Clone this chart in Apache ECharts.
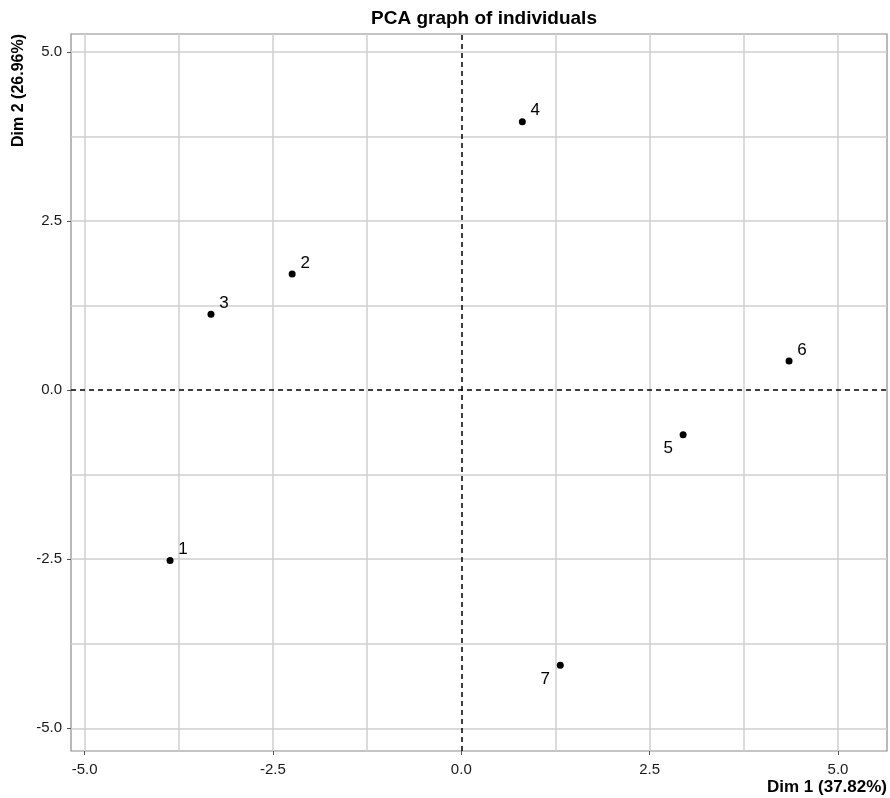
<!DOCTYPE html>
<html>
<head>
<meta charset="utf-8">
<script src="https://cdn.jsdelivr.net/npm/echarts@6/dist/echarts.min.js"></script>
<style>
html,body{margin:0;padding:0;background:#fff;}
#graphic{width:890px;height:798px;}
</style>
</head>
<body>
<div id="graphic"></div>
<script>
// individus
var names = ['1', '2', '3', '4', '5', '6', '7'];
var dim1 = [-3.865, -2.245, -3.322, 0.81, 2.944, 4.35, 1.314];
var dim2 = [-2.52, 1.717, 1.121, 3.966, -0.66, 0.43, -4.07];
// labels en bas à gauche pour 5 et 7
var labelSide = ['ur', 'ur', 'ur', 'ur', 'll', 'ur', 'll'];

var tickVals = [-5, -2.5, 0, 2.5, 5];
var gridVals = [-5, -3.75, -2.5, -1.25, 0, 1.25, 2.5, 3.75, 5];

function buildPoints(){
    var ret = [];
    for(var i=0; i<names.length; i++){
        var ur = labelSide[i] == 'ur';
        ret.push({
            value: [dim1[i], dim2[i]],
            name: names[i],
            label: {offset: ur ? [13, -11] : [-15, 14]}
        });
    }
    return ret;
}

function buildGrid(){
    var ret = [];
    for(var i=0; i<gridVals.length; i++){
        if(gridVals[i] == 0) continue;
        ret.push({xAxis: gridVals[i]});
        ret.push({yAxis: gridVals[i]});
    }
    return ret;
}

function fmt(v){ return v.toFixed(1); }

var option = {
    animation: false,
    title: {
        text: 'PCA graph of individuals',
        left: 479, top: 4, textAlign: 'center',
        textStyle: {fontFamily: 'Liberation Sans', fontSize: 19, fontWeight: 'bold', color: '#000'}
    },
    grid: {
        left: 71, top: 34, right: 2, bottom: 47,
        show: true, borderColor: '#8a8a8a', borderWidth: 1.2, backgroundColor: '#fff'
    },
    xAxis: {
        type: 'value', min: -5.18, max: 5.65,
        splitLine: {show: false},
        axisLine: {show: false, onZero: false},
        axisTick: {show: true, customValues: tickVals, length: 4, lineStyle: {color: '#555'}},
        axisLabel: {customValues: tickVals, formatter: fmt, color: '#1a1a1a', fontSize: 15,
            fontFamily: 'Liberation Sans', margin: 11},
        name: 'Dim 1 (37.82%)', nameLocation: 'end', nameGap: 0,
        nameTextStyle: {fontFamily: 'Liberation Sans', fontSize: 17, fontWeight: 'bold', color: '#000',
            align: 'right', verticalAlign: 'top', padding: [28, 0, 0, 0]}
    },
    yAxis: {
        type: 'value', min: -5.336, max: 5.264,
        splitLine: {show: false},
        axisLine: {show: false, onZero: false},
        axisTick: {show: true, customValues: tickVals, length: 4, lineStyle: {color: '#555'}},
        axisLabel: {customValues: tickVals, formatter: fmt, color: '#1a1a1a', fontSize: 15,
            fontFamily: 'Liberation Sans', margin: 9},
        name: 'Dim 2 (26.96%)', nameLocation: 'end', nameRotate: 90, nameGap: 0,
        nameTextStyle: {fontFamily: 'Liberation Sans', fontSize: 16, fontWeight: 'bold', color: '#000',
            align: 'right', verticalAlign: 'bottom', padding: [0, 0, 44, 0]}
    },
    series: [{
        type: 'scatter',
        symbol: 'circle', symbolSize: 7,
        itemStyle: {color: '#000', opacity: 1},
        z: 5,
        label: {
            show: true, formatter: '{b}', position: 'inside',
            color: '#000', fontSize: 17, fontFamily: 'Liberation Sans'
        },
        data: buildPoints(),
        markLine: {
            silent: true, symbol: 'none', z: 1,
            label: {show: false},
            lineStyle: {color: '#cfcfcf', width: 1.5, type: 'solid', opacity: 1},
            data: buildGrid().concat([
                {xAxis: 0, lineStyle: {color: '#000', width: 1.5, type: [5, 4]}},
                {yAxis: 0, lineStyle: {color: '#000', width: 1.5, type: [5, 4]}}
            ])
        }
    }]
};

var graphic = echarts.init(document.getElementById('graphic'));
graphic.setOption(option);
</script>
</body>
</html>
